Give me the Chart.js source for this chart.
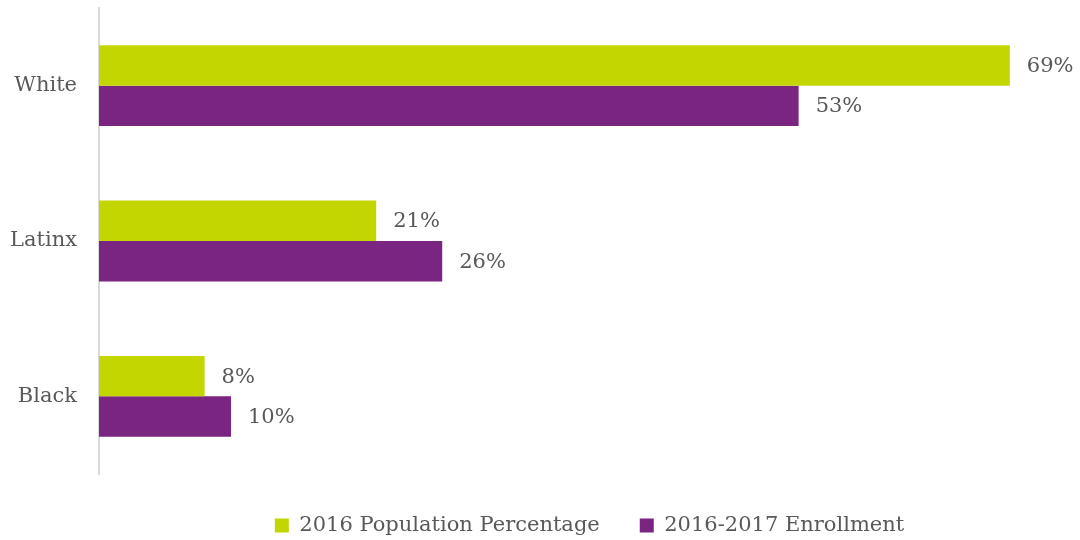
<!DOCTYPE html>
<html>
<head>
<meta charset="utf-8">
<script src="https://cdn.jsdelivr.net/npm/chart.js@4"></script>
<style>
  html, body { margin: 0; padding: 0; background: #fff; }
  #wrap { width: 1080px; height: 540px; position: relative; }
</style>
</head>
<body>
<div id="wrap"><canvas id="enrollChart"></canvas></div>
<script>
const groups = ['White', 'Latinx', 'Black'];
const populationPct = [69, 21, 8];
const enrollmentPct = [53, 26, 10];
const seriesNames = ['2016 Population Percentage', '2016-2017 Enrollment'];

const textColor = '#595959';
const fontFamily = "'DejaVu Serif', Georgia, serif";

// percentage labels just past the end of each bar
const valueLabels = {
    id: 'valueLabels',
    afterDatasetsDraw(chart) {
        const ctx = chart.ctx;
        ctx.save();
        ctx.font = '21px ' + fontFamily;
        ctx.fillStyle = textColor;
        ctx.textAlign = 'left';
        ctx.textBaseline = 'middle';
        chart.data.datasets.forEach((ds, i) => {
            chart.getDatasetMeta(i).data.forEach((bar, j) => {
                ctx.fillText(ds.data[j] + '%', bar.x + 17, bar.y + 1);
            });
        });
        ctx.restore();
    }
};

// fixed legend height, then nudge the legend a little right and down
const legendSpace = {
    id: 'legendSpace',
    beforeInit(chart) {
        chart.legend.afterFit = function() { this.height = 60; };
    },
    afterLayout(chart) {
        const lg = chart.legend;
        lg.left += 10;
        lg.right += 10;
        lg.top += 1;
        lg.bottom += 1;
    }
};

new Chart(document.getElementById('enrollChart'), {
    type: 'bar',
    data: {
        labels: groups,
        datasets: [{
            label: seriesNames[0],
            data: populationPct,
            backgroundColor: '#C4D600',
            categoryPercentage: 0.52,
            barPercentage: 1.0
        }, {
            label: seriesNames[1],
            data: enrollmentPct,
            backgroundColor: '#7A2582',
            categoryPercentage: 0.52,
            barPercentage: 1.0
        }]
    },
    options: {
        indexAxis: 'y',
        responsive: true,
        maintainAspectRatio: false,
        animation: false,
        layout: { padding: { top: 8, left: 0, right: 20, bottom: -5 } },
        plugins: {
            legend: {
                position: 'bottom',
                fullSize: false,
                labels: {
                    color: textColor,
                    font: { family: fontFamily, size: 21 },
                    boxWidth: 14,
                    boxHeight: 14,
                    padding: 40
                }
            },
            tooltip: { enabled: false }
        },
        scales: {
            x: {
                display: false,
                min: 0,
                max: 72.8
            },
            y: {
                afterFit(scale) {
                    scale.width = 99;
                    scale.paddingTop = 0;
                    scale.paddingBottom = 0;
                },
                grid: { display: false },
                border: { display: true, color: '#d9d9d9', width: 2 },
                ticks: {
                    color: textColor,
                    font: { family: fontFamily, size: 21 },
                    padding: 14
                }
            }
        }
    },
    plugins: [valueLabels, legendSpace]
});
</script>
</body>
</html>
